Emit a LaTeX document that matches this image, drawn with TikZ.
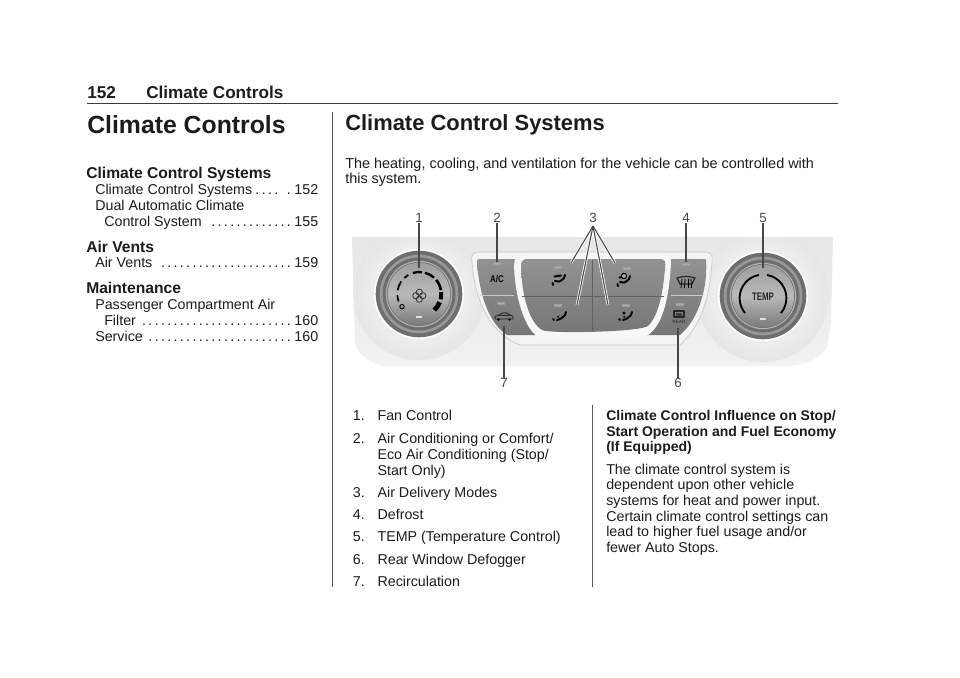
\documentclass[tikz,border=0pt]{standalone}
\usepackage{fontspec}
\setmainfont{Liberation Sans}
\usetikzlibrary{calc}
\definecolor{ink}{HTML}{1C1C1C}
\definecolor{rulegray}{HTML}{3A3A3A}
\definecolor{leader}{HTML}{474747}
\definecolor{panelbg}{HTML}{E6E6E6}
\definecolor{halo}{HTML}{F4F4F4}
\definecolor{btn}{HTML}{929292}
\definecolor{btndark}{HTML}{767676}
\definecolor{ringa}{HTML}{6E6E6E}
\definecolor{ringb}{HTML}{989898}
\definecolor{face}{HTML}{B9B9B9}
\tikzset{
  body/.style={anchor=base west, inner sep=0pt, text=ink, font=\fontsize{10.7}{12}\selectfont},
  bold/.style={body, font=\fontsize{10.5}{12}\selectfont\bfseries},
  sub/.style={bold, font=\fontsize{11.73}{13}\selectfont\bfseries},
  num/.style={body, anchor=base east},
  callout/.style={inner sep=0pt, text=leader, font=\fontsize{10}{11}\selectfont},
  lead/.style={draw=leader, line width=0.8pt},
  leadw/.style={draw=white, line width=2pt},
  led/.style={draw=black!38, fill=black!32, line width=0.3pt, minimum width=5pt, minimum height=1.9pt, inner sep=0pt},
  ledlit/.style={fill=black!12, minimum width=5pt, minimum height=1.7pt, inner sep=0pt},
  glyph/.style={draw=black, line width=1.45pt, line cap=round, line join=round},
  thin/.style={draw=black!85, line width=0.6pt, line cap=round, line join=round},
  vent/.pic={
    \draw[glyph] (-3.5,-3.5) -- (3,-4.5);
    \draw[glyph] (-3,1) .. controls (0,2.5) and (2,2) .. (6,-2) -- (7,-5);
    \draw[glyph] (-5,5) -- (-5.5,3);
  },
  ventlow/.pic={
    \draw[glyph] (-2,3) .. controls (0,3) and (2,2) .. (6,-2) -- (7,-5);
    \draw[glyph] (-6,2) -- (-5,3);
    \draw[glyph] (-1,-0.5) -- (-0.5,0);
  },
}
\newcommand{\tocdots}[1]{\foreach \i in {1,...,#1}{\makebox[4.72pt]{.}}}
\newcommand{\knob}[2]{%
  \shade[inner color=white, outer color=panelbg] (#1,#2) circle (66);
  \fill[white] (#1,#2) circle (45);
  \fill[ringa] (#1,#2) circle (43.3);
  \fill[ringb] (#1,#2) circle (39.3);
  \fill[ringa] (#1,#2) circle (36.5);
  \fill[black!30] (#1,#2) circle (33.2);
  \fill[black!55] (#1,#2) circle (32);
  \shade[top color=black!38, bottom color=black!52, middle color=face] (#1,#2) circle (31.2);
}
\begin{document}
\begin{tikzpicture}[x=0.75pt,y=-0.75pt]
  \useasboundingbox[fill=white] (0,0) rectangle (960,678);
  % page head
  \node[bold, font=\fontsize{12.85}{14}\selectfont\bfseries] (pageno) at (87,98) {152};
  \node[bold, font=\fontsize{12.85}{14}\selectfont\bfseries] (pagehead) at (146,98) {Climate Controls};
  \draw[rulegray, line width=1pt] (87,103.5) -- (838,103.5);
  \draw[black!65, line width=1pt] (332.5,112) -- (332.5,587);
  \draw[black!65, line width=1pt] (592.5,405) -- (592.5,587);
  \node[bold, font=\fontsize{18.6}{24}\selectfont\bfseries] (title) at (87,133) {Climate Controls};
  \node[bold, font=\fontsize{16.45}{20}\selectfont\bfseries] (heading) at (345,130) {Climate Control Systems};
  % contents
  \foreach \n/\y/\txt in {a/178/Climate Control Systems,b/252/Air Vents,c/293/Maintenance}
    \node[sub] (toc\n) at (86,\y) {\txt};
  \node[body] (toc1) at (95,194) {Climate Control Systems};
  \node[num] (pg1) at (318.5,194) {\tocdots{4}\hspace{4.72pt}\tocdots{1}\,152};
  \node[body] (toc2) at (95,210) {Dual Automatic Climate};
  \node[body] (toc3) at (104,226) {Control System};
  \node[num] (pg3) at (318.5,226) {\tocdots{13}\,155};
  \node[body] (toc4) at (95,267) {Air Vents};
  \node[num] (pg4) at (318.5,267) {\tocdots{21}\,159};
  \node[body] (toc5) at (95,309) {Passenger Compartment Air};
  \node[body] (toc6) at (104,325) {Filter};
  \node[num] (pg6) at (318.5,325) {\tocdots{24}\,160};
  \node[body] (toc7) at (95,341) {Service};
  \node[num] (pg7) at (318.5,341) {\tocdots{23}\,160};
  % intro
  \node[body, font=\fontsize{10.83}{12}\selectfont] (introa) at (345,168) {The heating, cooling, and ventilation for the vehicle can be controlled with};
  \node[body, font=\fontsize{10.83}{12}\selectfont] (introb) at (345,183.5) {this system.};
  % panel
  \begin{scope}
    \clip (352,237) -- (833,237) -- (831,320) -- (828,343)
      .. controls (825,356) and (810,364) .. (790,366) -- (383,366)
      .. controls (368,362) and (357,353) .. (355,343) -- cycle;
    \shade[top color=panelbg, bottom color=black!5] (340,230) rectangle (840,370);
    \knob{419}{294}
    \knob{763}{296}
  \end{scope}
  \filldraw[fill=halo, draw=black!22, line width=0.5pt] (478,252) -- (705,252) .. controls (711,252) and (713,256) .. (712,262)
    .. controls (710,290) and (705,322) .. (680,345) -- (520,345)
    .. controls (495,335) and (476,310) .. (472,262) .. controls (471,255) and (473,252) .. (478,252) -- cycle;
  % side buttons
  \shade[top color=btn, bottom color=btndark] (479,259) -- (706,259) .. controls (708,285) and (700,318) .. (680,335) -- (507,335)
    .. controls (487,322) and (479,290) .. (477,263) .. controls (477,260) and (477,259) .. (479,259) -- cycle;
  \fill[black!3] (525,254) -- (662,254) .. controls (668,254) and (672,258) .. (671,264)
    .. controls (669,295) and (664,324) .. (648,335) .. controls (640,340) and (550,342) .. (540,338)
    .. controls (526,332) and (515,300) .. (514,265) .. controls (514,258) and (518,254) .. (525,254) -- cycle;
  \shade[top color=btn, bottom color=btndark] (527,259) -- (660,259) .. controls (665,259) and (666,262) .. (665,268)
    .. controls (663,295) and (658,316) .. (648,326) .. controls (640,332) and (550,334) .. (542,330)
    .. controls (530,323) and (522,298) .. (521,267) .. controls (521,261) and (523,259) .. (527,259) -- cycle;
  \draw[black!20, line width=0.7pt] (480,295) -- (514,295) (671,295) -- (703,295);
  \draw[black!62, line width=0.6pt] (522,296) -- (664,296);
  \draw[black!62, line width=0.6pt] (592,260) -- (592,331);
  % leds
  \foreach \n/\x/\y in {ac/497/263,rc/501/303,va/558/267,vb/627/268,vc/558/305,vd/626/305,df/686/264,rr/680/304}
    \node[led] (led\n) at (\x,\y) {};
  \foreach \n/\x/\y in {fa/419/317,tm/763/319}
    \node[ledlit] (led\n) at (\x,\y) {};
  % button faces
  \node[inner sep=0pt, xscale=0.8, font=\fontsize{7.4}{8}\selectfont\bfseries] (acface) at (497,279) {A/C};
  \pic at (558,280) {vent};
  \pic at (623,281) {vent};
  \filldraw[fill=black!30, draw=black, line width=0.8pt] (624,276) circle (2.6);
  \pic at (559,317) {ventlow};
  \pic at (625,317) {ventlow};
  \fill (624,313) circle (1.7);
  % recirculation
  \draw[thin, line width=0.7pt] (495,319) .. controls (494,316) and (497,315.5) .. (499,315)
    .. controls (502,312) and (507,312) .. (510,315) .. controls (513,316) and (514,317) .. (513,319) -- cycle;
  \draw[thin] (499,315) -- (510,315);
  \fill (498.5,319.5) circle (1.4) (509.5,319.5) circle (1.4);
  % defrost
  \draw[thin, line width=0.9pt] (677,278) .. controls (682,276) and (690,276) .. (695,278) -- (692,284) -- (680,284) -- cycle;
  \foreach \x/\t in {682/681,685/684.5,688/688,691/691.5}
    \draw[black, line width=0.6pt] (\x,279) -- (\t,288);
  % rear
  \draw[thin, line width=0.8pt] (674,311) rectangle (684,317);
  \fill[black!75] (676,313) rectangle (682,315.5);
  \node[inner sep=0pt, text=black!75, font=\fontsize{3.5}{5}\selectfont\bfseries] (rearface) at (679,322) {REAR};
  % fan dial
  \coordinate (fancen) at (419.3,294);
  \foreach \a/\b/\w in {-200/-183/1.2,-170/-145/1.3,-133/-120/1.4,-107/-83/1.7,-75/-48/1.8,-40/-10/2,-5/14/3,22/47/3.5}
    \draw[black, line width=\w pt] ($(fancen)+(\a:22)$) arc[start angle=\a, end angle=\b, radius=22];
  \draw[black, line width=0.7pt] (402,306.7) circle (2.2);
  \foreach \a in {0,90,180,270}
    \draw[black!80, line width=0.6pt] ($(419.3,295.7)+(\a:3.5)$) circle (3.1);
  % temp dial
  \coordinate (tempcen) at (763,298);
  \draw[black, line width=1.4pt] ($(tempcen)+(-100:23.4)$) arc[start angle=-100, end angle=-220, radius=23.4];
  \draw[black, line width=1.4pt] ($(tempcen)+(-80:23.4)$) arc[start angle=-80, end angle=40, radius=23.4];
  \node[inner sep=0pt, xscale=0.72, text=black!85, font=\fontsize{8.2}{9}\selectfont\bfseries] (tempface) at (763,297) {TEMP};
  % callouts
  \foreach \n/\x/\y in {1/419/218,2/497/218,3/593/218,4/686/218,5/763/218,6/678/383,7/504/383}
    \node[callout] (c\n) at (\x,\y) {\n};
  \coordinate (e1) at (419,268);
  \coordinate (e2) at (497,262);
  \coordinate (e4) at (686,262);
  \coordinate (e5) at (763,268);
  \coordinate (e6) at (678,328);
  \coordinate (e7) at (504,326);
  \coordinate (s3) at (593,226);
  \coordinate (f1) at (571,263);
  \coordinate (f2) at (577,305);
  \coordinate (f3) at (608,305);
  \coordinate (f4) at (615,263);
  \foreach \X in {f1,f2,f3,f4} {
    \draw[leadw] (s3) -- (\X);
  }
  \foreach \X in {f1,f2,f3,f4} {
    \draw[lead] (s3) -- (\X);
  }
  \foreach \n in {1,2,4,5,6,7}
    \draw[lead] (c\n) -- (e\n);
  % list
  \foreach \n/\y/\txt in {1/420.5/Fan Control,3/497/Air Delivery Modes,4/519/Defrost,5/541.7/TEMP (Temperature Control),6/564/Rear Window Defogger,7/586.7/Recirculation} {
    \node[num] (no\n) at (365,\y) {\n.};
    \node[body] (item\n) at (377.3,\y) {\txt};
  }
  \node[num] (no2) at (365,443) {2.};
  \node[body] (item2) at (377.3,443) {Air Conditioning or Comfort/};
  \node[body] (item2b) at (377.3,459) {Eco Air Conditioning (Stop/};
  \node[body] (item2c) at (377.3,475) {Start Only)};
  % right column
  \node[bold] (infa) at (606,420.7) {Climate Control Influence on Stop/};
  \node[bold] (infb) at (606,436) {Start Operation and Fuel Economy};
  \node[bold] (infc) at (606,451.7) {(If Equipped)};
  \node[body] (para1) at (606,474) {The climate control system is};
  \node[body] (para2) at (606,489.6) {dependent upon other vehicle};
  \node[body] (para3) at (606,505) {systems for heat and power input.};
  \node[body] (para4) at (606,521) {Certain climate control settings can};
  \node[body] (para5) at (606,536.6) {lead to higher fuel usage and/or};
  \node[body] (para6) at (606,552) {fewer Auto Stops.};
\end{tikzpicture}
\end{document}
